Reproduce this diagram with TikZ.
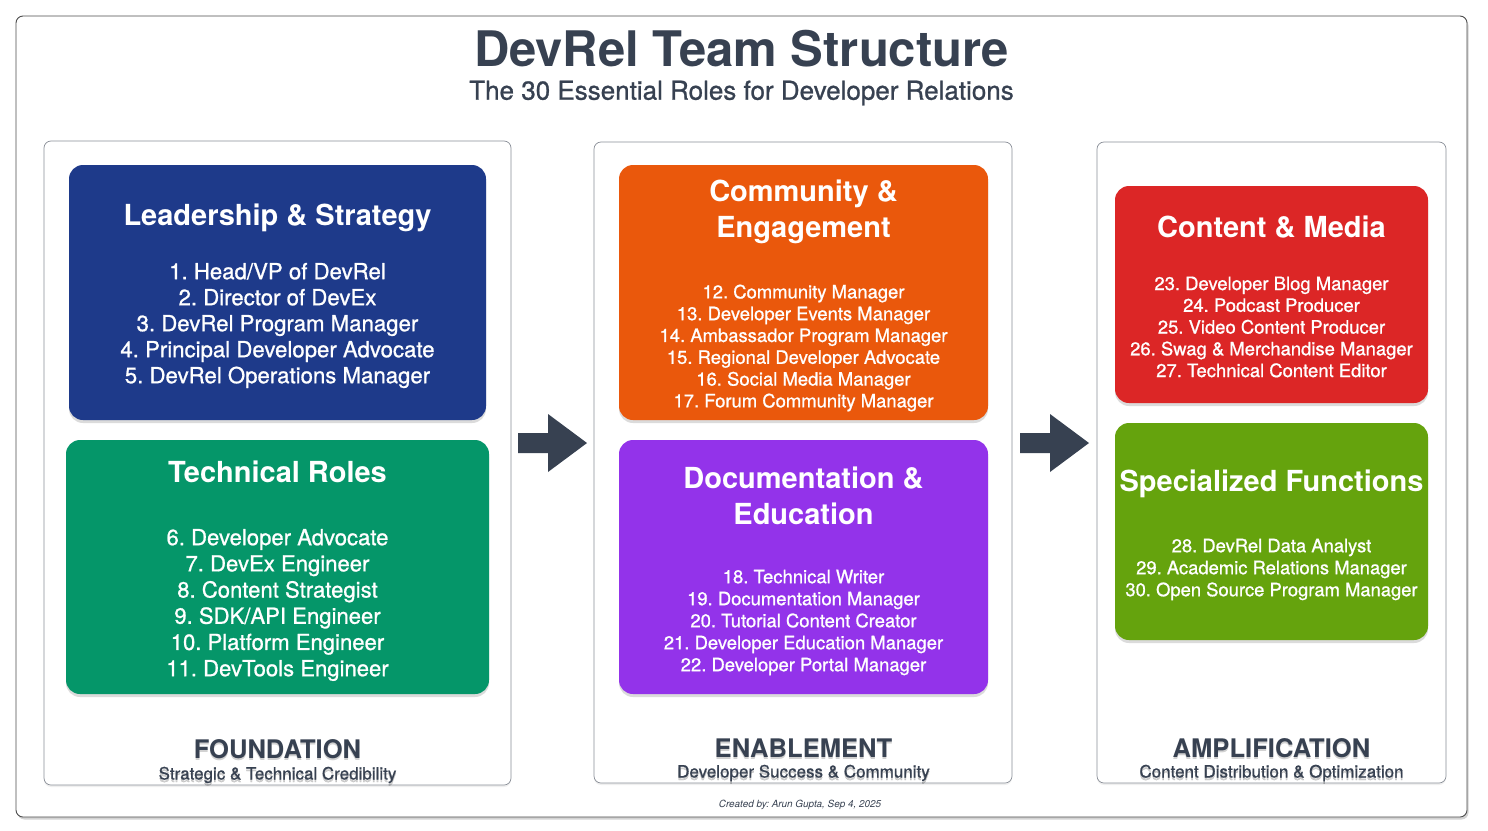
\documentclass[tikz,border=0pt]{standalone}
\usepackage{fontspec}
\setmainfont{TeX Gyre Heros}
\newfontfamily\medfont[FakeBold=0.9]{TeX Gyre Heros}
\frenchspacing
\usetikzlibrary{shadows}
\definecolor{txt}{HTML}{374151}
\definecolor{cblue}{HTML}{1E3A8A}
\definecolor{cgreen}{HTML}{059669}
\definecolor{corange}{HTML}{EA580C}
\definecolor{cpurple}{HTML}{9333EA}
\definecolor{cred}{HTML}{DC2626}
\definecolor{clime}{HTML}{65A30D}
\definecolor{colborder}{HTML}{8A8F98}
\tikzset{
  frame/.style={draw=black!70, line width=0.9pt, rounded corners=7pt, fill=white,
    drop shadow={opacity=0.35, shadow xshift=1.5pt, shadow yshift=-2.5pt}},
  column/.style={draw=colborder, line width=0.7pt, rounded corners=7pt, fill=white,
    drop shadow={opacity=0.12, shadow xshift=0pt, shadow yshift=-2pt}},
  rolebox/.style={rounded corners=14pt, draw=none,
    drop shadow={opacity=0.28, shadow xshift=0pt, shadow yshift=-3pt}},
  boxtitle/.style={text=white, font=\fontsize{29}{36}\selectfont\bfseries, align=center, inner sep=0pt},
  items/.style={text=white, align=center, inner sep=0pt},
  stage/.style={text=txt, font=\fontsize{25.6}{30}\selectfont\bfseries, inner sep=0pt},
  stagesub/.style={text=txt, font=\fontsize{17}{20}\selectfont\medfont, inner sep=0pt},
  tshadow/.style={text=black, opacity=0.18, inner sep=0pt},
  blockarrow/.style={fill=txt}
}
\begin{document}
\begin{tikzpicture}[x=1pt,y=-1pt]
\useasboundingbox (0,0) rectangle (1488,830);
% outer frame
\draw[frame] (16,16) rectangle (1467,817);
\node (title) at (741.5,48.5) [text=txt, font=\fontsize{49}{56}\selectfont\bfseries, inner sep=0pt] {DevRel Team Structure};
\node (subtitle) at (741.5,93) [text=txt, font=\fontsize{26}{30}\selectfont\medfont, inner sep=0pt] {The 30 Essential Roles for Developer Relations};

% columns
\draw[column] (44,141) rectangle (511,785);
\draw[column] (594,142) rectangle (1012,783);
\draw[column] (1097,142) rectangle (1446,783);

% ---- column 1
\draw[rolebox, fill=cblue] (69,165) rectangle (486,420);
\node (leadT) at (277.5,218) [boxtitle] {Leadership \& Strategy};
\node (leadI) at (277.5,325.5) [items, font=\fontsize{22.2}{26}\selectfont\medfont] {1. Head/VP of DevRel\\2. Director of DevEx\\3. DevRel Program Manager\\4. Principal Developer Advocate\\5. DevRel Operations Manager};

\draw[rolebox, fill=cgreen] (66,440) rectangle (489,694);
\node (techT) at (277.5,472) [boxtitle] {Technical Roles};
\node (techI) at (277.5,605) [items, font=\fontsize{22.1}{26.2}\selectfont\medfont] {6. Developer Advocate\\7. DevEx Engineer\\8. Content Strategist\\9. SDK/API Engineer\\10. Platform Engineer\\11. DevTools Engineer};

% ---- column 2
\draw[rolebox, fill=corange] (619,165) rectangle (988,420);
\node (commT) at (803.5,211.5) [boxtitle] {Community \&\\Engagement};
\node (commI) at (803.5,348) [items, font=\fontsize{18.45}{21.8}\selectfont\medfont] {12. Community Manager\\13. Developer Events Manager\\14. Ambassador Program Manager\\15. Regional Developer Advocate\\16. Social Media Manager\\17. Forum Community Manager};

\draw[rolebox, fill=cpurple] (619,440) rectangle (988,694);
\node (docT) at (803.5,495.5) [boxtitle] {Documentation \&\\Education};
\node (docI) at (803.5,622.5) [items, font=\fontsize{18.45}{22}\selectfont\medfont] {18. Technical Writer\\19. Documentation Manager\\20. Tutorial Content Creator\\21. Developer Education Manager\\22. Developer Portal Manager};

% ---- column 3
\draw[rolebox, fill=cred] (1115,186) rectangle (1428,403);
\node (contT) at (1271.5,227.5) [boxtitle] {Content \& Media};
\node (contI) at (1271.5,327) [items, font=\fontsize{18.45}{21.75}\selectfont\medfont] {23. Developer Blog Manager\\24. Podcast Producer\\25. Video Content Producer\\26. Swag \& Merchandise Manager\\27. Technical Content Editor};

\draw[rolebox, fill=clime] (1115,423) rectangle (1428,640);
\node (specT) at (1271.5,483.5) [boxtitle] {Specialized Functions};
\node (specI) at (1271.5,569.5) [items, font=\fontsize{18.4}{22}\selectfont\medfont] {28. DevRel Data Analyst\\29. Academic Relations Manager\\30. Open Source Program Manager};

% ---- arrows
\fill[blockarrow] (518,433) -- (548,433) -- (548,414) -- (587,443) -- (548,472) -- (548,453) -- (518,453) -- cycle;
\fill[blockarrow] (1020,433) -- (1050,433) -- (1050,414) -- (1089,443) -- (1050,472) -- (1050,453) -- (1020,453) -- cycle;

% ---- stage labels (with soft text shadow)
\node (fndS) at (277.5,751.5) [tshadow, font=\fontsize{25.6}{30}\selectfont\bfseries] {FOUNDATION};
\node (fnd) at (277.5,749) [stage] {FOUNDATION};
\node (fndsubS) at (277.5,777.5) [tshadow, font=\fontsize{17}{20}\selectfont\medfont] {Strategic \& Technical Credibility};
\node (fndsub) at (277.5,775) [stagesub] {Strategic \& Technical Credibility};

\node (enaS) at (803.5,750.5) [tshadow, font=\fontsize{25.6}{30}\selectfont\bfseries] {ENABLEMENT};
\node (ena) at (803.5,748) [stage] {ENABLEMENT};
\node (enasubS) at (803.5,775.5) [tshadow, font=\fontsize{17}{20}\selectfont\medfont] {Developer Success \& Community};
\node (enasub) at (803.5,773) [stagesub] {Developer Success \& Community};

\node (ampS) at (1271.5,750.5) [tshadow, font=\fontsize{25.6}{30}\selectfont\bfseries] {AMPLIFICATION};
\node (amp) at (1271.5,748) [stage] {AMPLIFICATION};
\node (ampsubS) at (1271.5,775.5) [tshadow, font=\fontsize{17}{20}\selectfont\medfont] {Content Distribution \& Optimization};
\node (ampsub) at (1271.5,773) [stagesub] {Content Distribution \& Optimization};

\node (credit) at (800,805) [text=txt, font=\fontsize{9.9}{11}\selectfont\itshape, inner sep=0pt] {Created by: Arun Gupta, Sep 4, 2025};
\end{tikzpicture}
\end{document}
